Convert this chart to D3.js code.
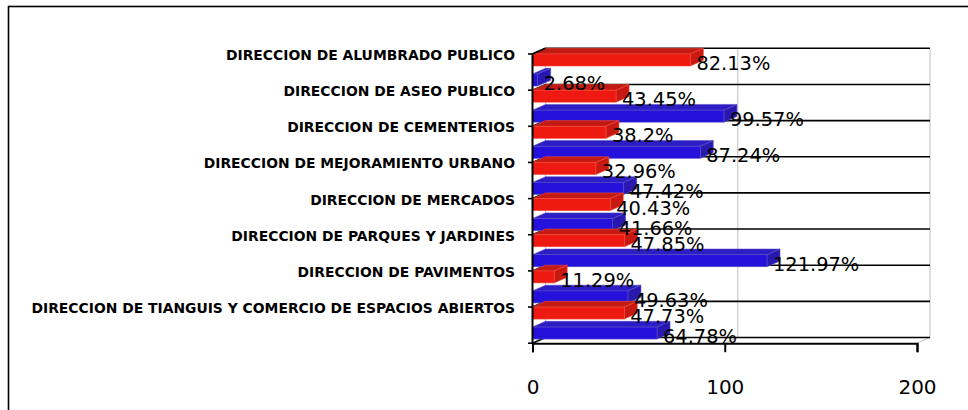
<!DOCTYPE html>
<html><head><meta charset="utf-8">
<script src="https://cdn.jsdelivr.net/npm/d3@7"></script>
<style>html,body{margin:0;padding:0;background:#fff;overflow:hidden}</style>
</head><body>
<svg id="c" width="968" height="410"></svg>
<script>
const categories = [
  "DIRECCION DE ALUMBRADO PUBLICO",
  "DIRECCION DE ASEO PUBLICO",
  "DIRECCION DE CEMENTERIOS",
  "DIRECCION DE MEJORAMIENTO URBANO",
  "DIRECCION DE MERCADOS",
  "DIRECCION DE PARQUES Y JARDINES",
  "DIRECCION DE PAVIMENTOS",
  "DIRECCION DE TIANGUIS Y COMERCIO DE ESPACIOS ABIERTOS"
];
const seriesNames = ["Serie 1", "Serie 2"];
const redValues  = [82.13, 43.45, 38.2, 32.96, 40.43, 47.85, 11.29, 47.73];
const blueValues = [2.68, 99.57, 87.24, 47.42, 41.66, 121.97, 49.63, 64.78];
const xTicks = [0, 100, 200];

const svg = d3.select("#c");
const DX = 13, DY = -5.7;

const x = d3.scaleLinear().domain([0, 200]).range([532.5, 917]);
const y = d3.scaleBand().domain(categories).range([54, 343.2]).paddingInner(0).paddingOuter(0);
const sub = d3.scaleBand().domain(seriesNames).range([0, 32]).paddingInner(0.4).paddingOuter(0);

const colors = {
  "Serie 1": {front: "#ee1a12", top: "#c41a14", side: "#c81812", stroke: "#f04a3a"},
  "Serie 2": {front: "#2412dc", top: "#2c1ec4", side: "#2818b0", stroke: "#5a4cc0"}
};

// outer frame
svg.append("rect").attr("x", 8.5).attr("y", 6.5).attr("width", 1000).attr("height", 500)
  .attr("fill", "none").attr("stroke", "#000").attr("stroke-width", 1.6);

const x0 = x(0), xMax = x(200), yTop = y.range()[0], yBot = y.range()[1];

// back wall value gridlines (gray)
const g = svg.append("g");
xTicks.forEach(t => {
  g.append("line").attr("x1", x(t) + DX).attr("x2", x(t) + DX)
    .attr("y1", yTop + DY).attr("y2", yBot + DY)
    .attr("stroke", "#c8c8c8").attr("stroke-width", 1.2);
  g.append("line").attr("x1", x(t)).attr("y1", yBot).attr("x2", x(t) + DX).attr("y2", yBot + DY)
    .attr("stroke", "#c8c8c8").attr("stroke-width", 1.2);
});

// category gridlines (side wall slant + back wall horizontal)
const tickPos = categories.map(c => y(c)).concat([yBot]);
tickPos.forEach(ty => {
  g.append("path")
    .attr("d", `M${x0},${ty}L${x0 + DX},${ty + DY}L${xMax + DX},${ty + DY}`)
    .attr("fill", "none").attr("stroke", "#000").attr("stroke-width", 1.6);
});

// bars
const bars = [];
categories.forEach((c, i) => {
  bars.push({c, s: seriesNames[0], v: redValues[i]});
  bars.push({c, s: seriesNames[1], v: blueValues[i]});
});
const bg = svg.append("g");
bars.forEach(d => {
  const yf = y(d.c) + sub(d.s), h = sub.bandwidth();
  const xl = x(0), xr = x(d.v);
  const col = colors[d.s];
  bg.append("path").attr("d", `M${xl},${yf}L${xl + DX},${yf + DY}L${xr + DX},${yf + DY}L${xr},${yf}Z`)
    .attr("fill", col.top).attr("stroke", col.stroke).attr("stroke-width", 0.6);
  bg.append("path").attr("d", `M${xr},${yf}L${xr + DX},${yf + DY}L${xr + DX},${yf + h + DY}L${xr},${yf + h}Z`)
    .attr("fill", col.side).attr("stroke", col.stroke).attr("stroke-width", 0.6);
  bg.append("rect").attr("x", xl).attr("y", yf).attr("width", xr - xl).attr("height", h)
    .attr("fill", col.front).attr("stroke", col.stroke).attr("stroke-width", 0.6);
});

// axes lines
svg.append("path").attr("d", `M${x0},${yTop}L${x0 + DX},${yTop + DY}`).attr("stroke", "#000").attr("stroke-width", 1.6);
svg.append("line").attr("x1", x0).attr("x2", x0).attr("y1", yTop).attr("y2", yBot)
  .attr("stroke", "#000").attr("stroke-width", 2);

// y axis ticks + labels
const tg = svg.append("g");
tickPos.forEach(ty => tg.append("line").attr("x1", x0 - 4.5).attr("x2", x0).attr("y1", ty).attr("y2", ty)
  .attr("stroke", "#000").attr("stroke-width", 1.6));
svg.append("g").selectAll("text").data(categories).join("text")
  .attr("x", 515).attr("y", d => y(d) + 6)
  .attr("text-anchor", "end")
  .attr("font-family", "DejaVu Sans, Verdana, sans-serif").attr("font-weight", "bold")
  .attr("font-size", 13.9).attr("fill", "#000")
  .text(d => d);

// x axis
const xAxis = d3.axisBottom(x).tickValues(xTicks).tickSize(9).tickFormat(d3.format("d"));
const xg = svg.append("g").attr("transform", `translate(0,${yBot})`).call(xAxis);
xg.select(".domain").attr("stroke", "#000").attr("stroke-width", 2);
xg.selectAll(".tick line").attr("stroke", "#000").attr("stroke-width", 2);
xg.selectAll(".tick text").attr("font-family", "DejaVu Sans, Verdana, sans-serif")
  .attr("font-size", 20).attr("fill", "#000").attr("dy", 0).attr("y", 51);

// data labels
svg.append("g").selectAll("text").data(bars).join("text")
  .attr("x", d => x(d.v) + 6)
  .attr("y", d => y(d.c) + sub(d.s) + sub.bandwidth() + 4)
  .attr("font-family", "DejaVu Sans, Verdana, sans-serif")
  .attr("font-size", 19.4).attr("fill", "#000")
  .text(d => d.v + "%");
</script>
</body></html>
